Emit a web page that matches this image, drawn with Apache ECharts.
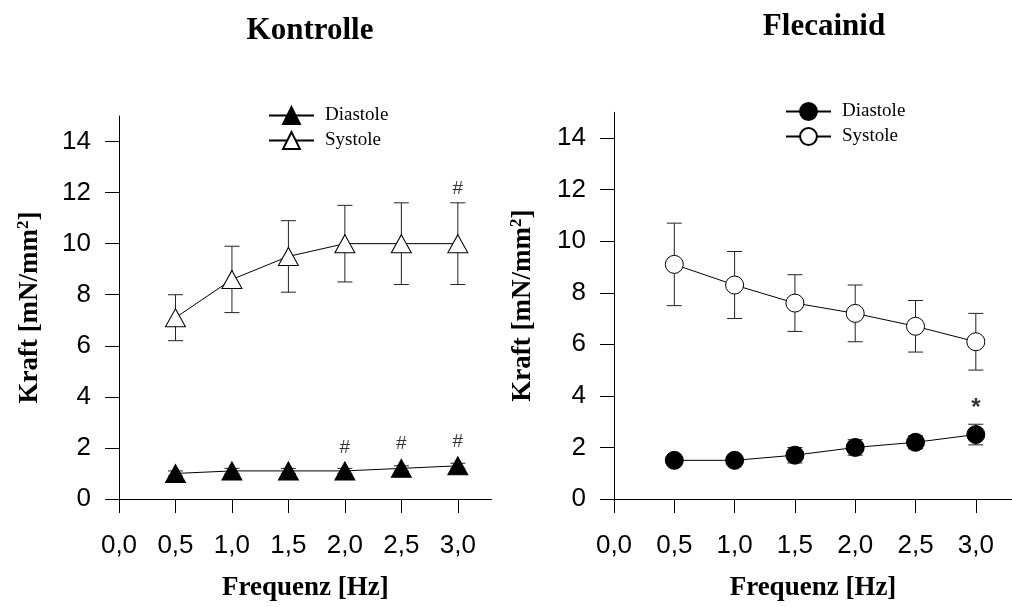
<!DOCTYPE html>
<html>
<head>
<meta charset="utf-8">
<script src="https://cdn.jsdelivr.net/npm/echarts@6/dist/echarts.min.js"></script>
<style>
  html, body { margin: 0; padding: 0; background: #fff; }
  #chart { width: 1012px; height: 607px; }
</style>
</head>
<body>
<div id="chart"></div>
<script>
// Frequency steps (Hz)
const freq = [0.5, 1.0, 1.5, 2.0, 2.5, 3.0];
const xTicks = [0, 0.5, 1.0, 1.5, 2.0, 2.5, 3.0];
const yTicks = [0, 2, 4, 6, 8, 10, 12, 14];

// Kontrolle
const kontrolleDiastole = [1.0, 1.1, 1.1, 1.1, 1.2, 1.3];
const kontrolleDiastoleLow = [0.9, 1.0, 1.0, 1.0, 1.1, 1.2];
const kontrolleDiastoleHigh = [1.1, 1.2, 1.2, 1.2, 1.3, 1.4];
const kontrolleSystole = [7.1, 8.6, 9.5, 10.0, 10.0, 10.0];
const kontrolleSystoleLow = [6.2, 7.3, 8.1, 8.5, 8.4, 8.4];
const kontrolleSystoleHigh = [8.0, 9.9, 10.9, 11.5, 11.6, 11.6];
const kontrolleMarks = [[2.0, 2.0, '#'], [2.5, 2.15, '#'], [3.0, 2.25, '#'], [3.0, 12.15, '#']];

// Flecainid
const flecDiastole = [1.5, 1.5, 1.7, 2.0, 2.2, 2.5];
const flecDiastoleLow = [1.4, 1.4, 1.4, 1.7, 1.95, 2.1];
const flecDiastoleHigh = [1.6, 1.6, 2.0, 2.3, 2.45, 2.9];
const flecSystole = [9.1, 8.3, 7.6, 7.2, 6.7, 6.1];
const flecSystoleLow = [7.5, 7.0, 6.5, 6.1, 5.7, 5.0];
const flecSystoleHigh = [10.7, 9.6, 8.7, 8.3, 7.7, 7.2];
const flecMarks = [[3.0, 3.5, '*']];

const SERIF = '"Liberation Serif", "Times New Roman", serif';
const SANS = '"Liberation Sans", Arial, sans-serif';

function pairs(ys) {
  return freq.map((x, i) => [x, ys[i]]);
}

function errorData(low, high) {
  return freq.map((x, i) => [x, low[i], high[i]]);
}

// Vertical error bar with caps
function renderErrorBar(params, api) {
  const lo = api.coord([api.value(0), api.value(1)]);
  const hi = api.coord([api.value(0), api.value(2)]);
  const half = 7.5;
  const style = { stroke: '#222', lineWidth: 1 };
  return {
    type: 'group',
    children: [
      { type: 'line', shape: { x1: lo[0], y1: lo[1], x2: hi[0], y2: hi[1] }, style },
      { type: 'line', shape: { x1: hi[0] - half, y1: hi[1], x2: hi[0] + half, y2: hi[1] }, style },
      { type: 'line', shape: { x1: lo[0] - half, y1: lo[1], x2: lo[0] + half, y2: lo[1] }, style },
    ],
  };
}

function xAxisFor(gridIndex, nameGap) {
  return {
    type: 'value',
    gridIndex,
    min: 0,
    max: 3.3,
    name: 'Frequenz [Hz]',
    nameLocation: 'middle',
    nameGap,
    nameTextStyle: { fontFamily: SERIF, fontWeight: 'bold', fontSize: 27, color: '#000' },
    axisLine: { show: true, lineStyle: { color: '#000', width: 1 } },
    axisTick: { show: true, length: 14, customValues: xTicks, lineStyle: { color: '#000' } },
    axisLabel: {
      customValues: xTicks,
      margin: 34,
      fontFamily: SANS,
      fontSize: 26,
      color: '#000',
      formatter: (v) => v.toFixed(1).replace('.', ','),
    },
    splitLine: { show: false },
  };
}

function yAxisFor(gridIndex, nameGap) {
  return {
    type: 'value',
    gridIndex,
    min: 0,
    max: 15,
    name: 'Kraft [mN/mm{sup|2}]',
    nameLocation: 'middle',
    nameGap,
    nameRotate: 90,
    nameTextStyle: {
      fontFamily: SERIF, fontWeight: 'bold', fontSize: 27, color: '#000',
      rich: { sup: { fontFamily: SERIF, fontWeight: 'bold', fontSize: 17, verticalAlign: 'top', padding: [0, 0, 14, 0] } },
    },
    axisLine: { show: true, lineStyle: { color: '#000', width: 1 } },
    axisTick: { show: true, length: 14, customValues: yTicks, lineStyle: { color: '#000' } },
    axisLabel: { customValues: yTicks, margin: 28, fontFamily: SANS, fontSize: 26, color: '#000' },
    splitLine: { show: false },
  };
}

function markSeries(idx, marks, size, bold) {
  return {
    type: 'scatter',
    xAxisIndex: idx,
    yAxisIndex: idx,
    symbolSize: 1,
    itemStyle: { color: 'rgba(0,0,0,0)' },
    silent: true,
    z: 5,
    data: marks.map((m) => ({ value: [m[0], m[1]], name: m[2] })),
    label: {
      show: true,
      position: 'inside',
      formatter: (p) => p.name,
      fontFamily: SANS,
      fontSize: size,
      fontWeight: bold ? 'bold' : 'normal',
      color: '#000',
    },
  };
}

function lineSeries(name, idx, ys, symbol, size, filled) {
  return {
    name,
    type: 'line',
    xAxisIndex: idx,
    yAxisIndex: idx,
    data: pairs(ys),
    symbol,
    symbolSize: size,
    showAllSymbol: true,
    itemStyle: { color: filled ? '#000' : '#fff', borderColor: '#000', borderWidth: 1, opacity: 1 },
    lineStyle: { color: '#000', width: 1 },
    z: 3,
  };
}

function errSeries(idx, low, high) {
  return {
    type: 'custom',
    xAxisIndex: idx,
    yAxisIndex: idx,
    renderItem: renderErrorBar,
    data: errorData(low, high),
    silent: true,
    z: 1,
  };
}

const legendText = { fontFamily: SERIF, fontSize: 19, color: '#000', padding: [0, 0, 0, 6] };

const chart = echarts.init(document.getElementById('chart'));

const option = {
  backgroundColor: '#fff',
  animation: false,
  title: [
    { text: 'Kontrolle', left: 305, top: 10, textAlign: 'center',
      textStyle: { fontFamily: SERIF, fontWeight: 'bold', fontSize: 31, color: '#000' } },
    { text: 'Flecainid', left: 819, top: 6, textAlign: 'center',
      textStyle: { fontFamily: SERIF, fontWeight: 'bold', fontSize: 31, color: '#000' } },
  ],
  legend: [
    {
      data: ['Diastole ', 'Systole '],
      orient: 'vertical',
      left: 263,
      top: 101,
      itemWidth: 45,
      itemHeight: 21,
      itemGap: 6,
      textStyle: legendText,
    },
    {
      data: ['Diastole', 'Systole'],
      orient: 'vertical',
      left: 780,
      top: 97,
      itemWidth: 45,
      itemHeight: 21,
      itemGap: 6,
      textStyle: legendText,
    },
  ],
  grid: [
    { left: 119, top: 116, width: 372.7, height: 384.7, containLabel: false },
    { left: 614, top: 112.3, width: 411.5, height: 388.4, containLabel: false },
  ],
  xAxis: [xAxisFor(0, 76), xAxisFor(1, 76)],
  yAxis: [yAxisFor(0, 73), yAxisFor(1, 75)],
  series: [
    errSeries(0, kontrolleSystoleLow, kontrolleSystoleHigh),
    errSeries(0, kontrolleDiastoleLow, kontrolleDiastoleHigh),
    lineSeries('Diastole ', 0, kontrolleDiastole, 'triangle', [20, 18], true),
    lineSeries('Systole ', 0, kontrolleSystole, 'triangle', [20, 18], false),
    markSeries(0, kontrolleMarks, 19, false),

    errSeries(1, flecSystoleLow, flecSystoleHigh),
    errSeries(1, flecDiastoleLow, flecDiastoleHigh),
    lineSeries('Diastole', 1, flecDiastole, 'circle', 18, true),
    lineSeries('Systole', 1, flecSystole, 'circle', 18, false),
    markSeries(1, flecMarks, 24, true),
  ],
};

chart.setOption(option);
</script>
</body>
</html>
